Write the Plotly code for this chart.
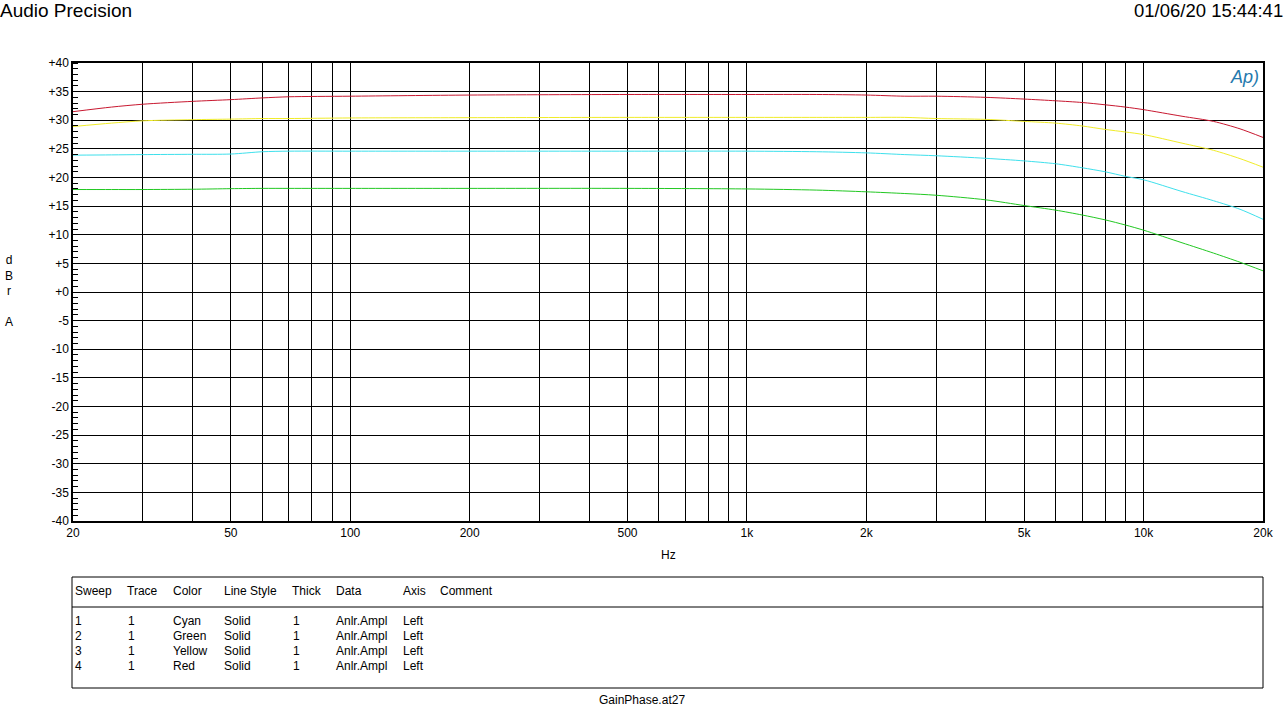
import plotly.graph_objects as go

# ---------------- data ----------------
freq = [20, 25, 30, 40, 50, 60, 70, 100, 200, 500, 1000, 1500, 2000, 2500, 3000,
        4000, 5000, 6000, 7000, 8000, 9000, 10000, 12500, 15000, 17500, 20000]
red = [31.5, 32.3, 32.8, 33.3, 33.6, 33.9, 34.1, 34.2, 34.4, 34.5, 34.5, 34.5, 34.4, 34.2, 34.2,
       34.0, 33.7, 33.4, 33.1, 32.7, 32.3, 31.85, 30.7, 29.8, 28.5, 27.0]
yellow = [28.9, 29.5, 29.9, 30.1, 30.2, 30.3, 30.3, 30.4, 30.45, 30.5, 30.5, 30.5, 30.5, 30.5, 30.3,
          30.15, 29.8, 29.5, 29.0, 28.4, 27.95, 27.5, 26.0, 24.75, 23.3, 21.8]
cyan = [23.9, 23.95, 24.0, 24.05, 24.1, 24.5, 24.6, 24.6, 24.6, 24.6, 24.6, 24.5, 24.3, 24.0, 23.8,
        23.35, 22.9, 22.4, 21.7, 21.0, 20.2, 19.6, 17.55, 15.95, 14.45, 12.7]
green = [17.9, 17.9, 17.9, 17.95, 18.05, 18.1, 18.1, 18.1, 18.1, 18.1, 18.0, 17.8, 17.5, 17.2, 16.9,
         16.1, 15.1, 14.3, 13.45, 12.6, 11.7, 10.8, 8.6, 6.8, 5.2, 3.7]

x_grid = [20, 30, 40, 50, 60, 70, 80, 90, 100, 200, 300, 400, 500, 600, 700, 800, 900,
          1000, 2000, 3000, 4000, 5000, 6000, 7000, 8000, 9000, 10000, 20000]
x_labels = {20: "20", 50: "50", 100: "100", 200: "200", 500: "500", 1000: "1k",
            2000: "2k", 5000: "5k", 10000: "10k", 20000: "20k"}
y_ticks = list(range(-40, 41, 5))
y_labels = [("+%d" % v) if v >= 0 else str(v) for v in y_ticks]

# legend table
table_header = ["Sweep", "Trace", "Color", "Line Style", "Thick", "Data", "Axis", "Comment"]
sweeps = ["1", "2", "3", "4"]
traces = ["1", "1", "1", "1"]
color_names = ["Cyan", "Green", "Yellow", "Red"]
line_styles = ["Solid", "Solid", "Solid", "Solid"]
thicks = ["1", "1", "1", "1"]
data_names = ["Anlr.Ampl", "Anlr.Ampl", "Anlr.Ampl", "Anlr.Ampl"]
axes_names = ["Left", "Left", "Left", "Left"]

series = [("Cyan", cyan, "#3ee0ec"), ("Green", green, "#22c822"),
          ("Yellow", yellow, "#f0ec28"), ("Red", red, "#c81830")]

# ---------------- layout geometry ----------------
W, H = 1285, 713
L, R, T, B = 73, 1263, 63, 521
FONT = "Liberation Sans, Arial, sans-serif"


def px(x):
    return (x - L) / (R - L)


def py(y):
    return (B - y) / (B - T)


fig = go.Figure()
for name, vals, col in series:
    fig.add_trace(go.Scatter(x=freq, y=vals, mode="lines", name=name,
                             line=dict(color=col, width=1, shape="spline", smoothing=0.8),
                             showlegend=False, hoverinfo="skip"))

fig.update_layout(
    width=W, height=H,
    margin=dict(l=L, r=W - R, t=T, b=H - B, pad=0),
    paper_bgcolor="white", plot_bgcolor="white",
    font=dict(family=FONT, size=12, color="black"),
    showlegend=False,
)

fig.update_xaxes(
    type="log", range=[1.30103, 4.30103],
    tickmode="array", tickvals=x_grid,
    ticktext=[x_labels.get(v, "") for v in x_grid],
    showgrid=True, gridcolor="black", gridwidth=1,
    showline=True, linecolor="black", linewidth=1.5, mirror=True,
    ticks="", zeroline=False, tickfont=dict(size=12),
)
fig.update_yaxes(
    range=[-40, 40], tickmode="array", tickvals=y_ticks, ticktext=y_labels,
    showgrid=True, gridcolor="black", gridwidth=1,
    showline=True, linecolor="black", linewidth=1.5, mirror=True,
    ticks="", zeroline=False, tickfont=dict(size=12),
    minor=dict(dtick=1, tick0=0, ticks="inside", ticklen=5, tickcolor="black",
               tickwidth=1, showgrid=False),
)

ann = []


def text(x, y, s, size=12, xanchor="left", color="black", family=FONT):
    ann.append(dict(x=px(x), y=py(y), xref="paper", yref="paper", text=s,
                    showarrow=False, xanchor=xanchor, yanchor="middle",
                    font=dict(size=size, color=color, family=family)))


text(-2, 11, "Audio Precision", size=19)
text(1285, 11, "01/06/20 15:44:41", size=18.5, xanchor="right")
text(668, 555, "Hz", xanchor="center")
text(642, 700, "GainPhase.at27", xanchor="center")
text(1244, 77, "<i>Ap)</i>", size=18, xanchor="center", color="#2479ad")
ann.append(dict(x=px(9), y=py(291), xref="paper", yref="paper",
                text="d<br>B<br>r<br><br>A", showarrow=False, xanchor="center",
                yanchor="middle", align="center", font=dict(size=12, family=FONT)))

col_x = [73, 125, 171, 222, 290, 334, 401, 438]
for cx, h in zip(col_x, table_header):
    text(cx, 591, h)
row_y = [621, 636, 651, 666]
cols = [sweeps, traces, color_names, line_styles, thicks, data_names, axes_names]
for ci, colvals in enumerate(cols):
    for ri, v in enumerate(colvals):
        text(col_x[ci] + (1 if ci in (1, 4) else 0), row_y[ri], v)

shapes = [
    dict(type="rect", xref="paper", yref="paper", x0=px(72), x1=px(1263),
         y0=py(688), y1=py(577), line=dict(color="black", width=1)),
    dict(type="line", xref="paper", yref="paper", x0=px(72), x1=px(1263),
         y0=py(607), y1=py(607), line=dict(color="black", width=1)),
]
fig.update_layout(annotations=ann, shapes=shapes)

fig.write_html("out.html",
               config={"displayModeBar": False},
               post_script="document.body.style.margin='0px';"
                           "document.body.style.overflow='hidden';")
